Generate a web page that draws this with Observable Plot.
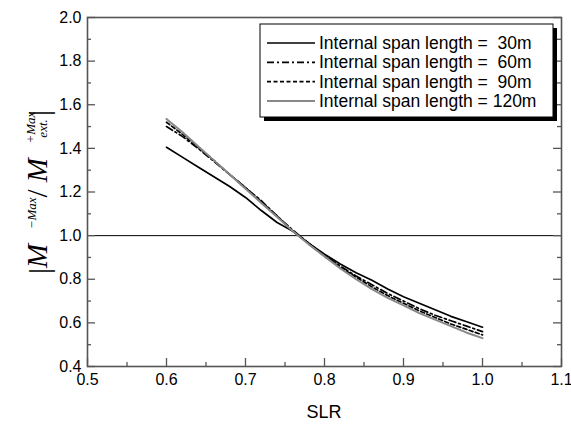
<!DOCTYPE html>
<html>
<head>
<meta charset="utf-8">
<script src="https://cdn.jsdelivr.net/npm/d3@7"></script>
<script src="https://cdn.jsdelivr.net/npm/@observablehq/plot@0.6"></script>
<style>
  html, body { margin: 0; padding: 0; background: #fff; }
  svg text { white-space: pre; }
</style>
</head>
<body>
<div id="chart"></div>
<script>
const xs   = [0.60,0.62,0.64,0.66,0.68,0.70,0.72,0.74,0.76,0.78,0.80,0.82,0.84,0.86,0.88,0.90,0.92,0.94,0.96,0.98,1.00];
const s30  = [1.405,1.36,1.315,1.27,1.225,1.175,1.115,1.06,1.02,0.965,0.915,0.87,0.83,0.795,0.755,0.72,0.69,0.66,0.63,0.605,0.58];
const s60  = [1.50,1.455,1.40,1.34,1.28,1.22,1.16,1.09,1.025,0.965,0.91,0.86,0.815,0.775,0.735,0.70,0.665,0.635,0.61,0.585,0.56];
const s90  = [1.52,1.465,1.405,1.345,1.28,1.22,1.155,1.09,1.02,0.965,0.905,0.855,0.81,0.765,0.725,0.69,0.655,0.625,0.595,0.57,0.545];
const s120 = [1.535,1.475,1.41,1.345,1.28,1.215,1.15,1.085,1.02,0.96,0.905,0.85,0.80,0.755,0.715,0.68,0.645,0.615,0.585,0.555,0.53];
const seriesNames = ["Internal span length =  30m","Internal span length =  60m","Internal span length =  90m","Internal span length = 120m"];
const xTicks = [0.5,0.6,0.7,0.8,0.9,1.0,1.1];
const xMinor = [0.55,0.65,0.75,0.85,0.95,1.05];
const yTicks = [0.4,0.6,0.8,1.0,1.2,1.4,1.6,1.8,2.0];
const yMinor = [0.5,0.7,0.9,1.1,1.3,1.5,1.7,1.9];

const styles = [
  {stroke:"#000", strokeWidth:1.7, dash:null},
  {stroke:"#000", strokeWidth:1.7, dash:"7,3,2,3"},
  {stroke:"#000", strokeWidth:1.7, dash:"4,2.5"},
  {stroke:"#888", strokeWidth:2, dash:null}
];
const allSeries = [s30, s60, s90, s120];
const rows = (vals) => xs.map((x,i) => ({x, y: vals[i]}));

const W = 571, H = 428;
const mL = 87, mR = 10, mT = 17, mB = 62;
const xPx = 0.6 / (W - mL - mR);
const yPx = 1.6 / (H - mT - mB);

const lineMarks = allSeries.map((s,i) => Plot.line(rows(s), {
  x:"x", y:"y", stroke: styles[i].stroke, strokeWidth: styles[i].strokeWidth,
  strokeDasharray: styles[i].dash
}));

const chart = Plot.plot({
  width: W, height: H,
  marginLeft: mL, marginRight: mR, marginTop: mT, marginBottom: mB,
  style: {fontFamily: "'Liberation Sans', Arial, sans-serif", fontSize: "16px", color:"#000", background:"#fff"},
  x: {domain:[0.5,1.1]},
  y: {domain:[0.4,2.0]},
  marks: [
    Plot.ruleY([1.0], {stroke:"#000", strokeWidth:1}),
    ...lineMarks,
    Plot.frame({stroke:"#555", strokeWidth:1.6}),
    Plot.ruleX(xTicks, {x:d=>d, y1:0.4, y2:0.4+8*yPx, stroke:"#555", strokeWidth:1.3}),
    Plot.ruleX(xMinor, {x:d=>d, y1:0.4, y2:0.4+4*yPx, stroke:"#555", strokeWidth:1.3}),
    Plot.ruleY(yTicks, {y:d=>d, x1:0.5, x2:0.5+8*xPx, stroke:"#555", strokeWidth:1.3}),
    Plot.ruleY(yMinor, {y:d=>d, x1:0.5, x2:0.5+4*xPx, stroke:"#555", strokeWidth:1.3}),
    Plot.ruleY(yTicks, {y:d=>d, x1:1.1-8*xPx, x2:1.1, stroke:"#555", strokeWidth:1.3}),
    Plot.ruleY(yMinor, {y:d=>d, x1:1.1-4*xPx, x2:1.1, stroke:"#555", strokeWidth:1.3}),
    Plot.axisX({ticks: xTicks, tickFormat: d=>d.toFixed(1), tickSize:0, tickPadding:7, label:null, fontSize:16}),
    Plot.axisY({ticks: yTicks, tickFormat: d=>d.toFixed(1), tickSize:0, tickPadding:6, label:null, fontSize:16})
  ]
});
document.getElementById("chart").appendChild(chart);

const svg = d3.select(chart);
svg.append("text").attr("x", 324).attr("y", 418).attr("text-anchor","middle")
  .attr("font-family","'Liberation Sans', Arial, sans-serif").attr("font-size",18).text("SLR");

// Y label (math expression)
const yl = svg.append("text")
  .attr("transform","translate(47,192) rotate(-90)")
  .attr("text-anchor","middle")
  .attr("font-family","'Liberation Serif', 'DejaVu Serif', serif")
  .attr("font-size",29);
yl.append("tspan").attr("font-style","normal").attr("font-size",30).attr("dy",2).text("|");
yl.append("tspan").attr("font-style","italic").attr("dy",-2).text("M  ");
yl.append("tspan").attr("font-style","italic").attr("font-size",13).attr("dy",-11).text("−Max");
yl.append("tspan").attr("dy",11).text("/ ");
yl.append("tspan").attr("font-style","italic").text("M  ");
yl.append("tspan").attr("font-style","italic").attr("font-size",13).attr("dy",-12).text("+Max");
yl.append("tspan").attr("font-style","italic").attr("font-size",13).attr("dx",-26).attr("dy",12).text("ext. ");
yl.append("tspan").attr("font-style","normal").attr("font-size",30).attr("dy",2).text("|");

// Legend
const lg = svg.append("g").attr("text-anchor","start");
lg.append("rect").attr("x",264).attr("y",28).attr("width",293).attr("height",93).attr("fill","#000");
lg.append("rect").attr("x",260).attr("y",24).attr("width",293).attr("height",93).attr("fill","#fff").attr("stroke","#000").attr("stroke-width",1);
seriesNames.forEach((name,i) => {
  const yy = 43 + i*19.3;
  lg.append("line").attr("x1",267).attr("x2",315).attr("y1",yy).attr("y2",yy)
    .attr("stroke",styles[i].stroke).attr("stroke-width",styles[i].strokeWidth)
    .attr("stroke-dasharray",styles[i].dash);
  lg.append("text").attr("x",319).attr("y",yy+6).attr("text-anchor","start")
    .attr("font-family","'Liberation Sans', Arial, sans-serif").attr("font-size",17.5)
    .text(name);
});
</script>
</body>
</html>
